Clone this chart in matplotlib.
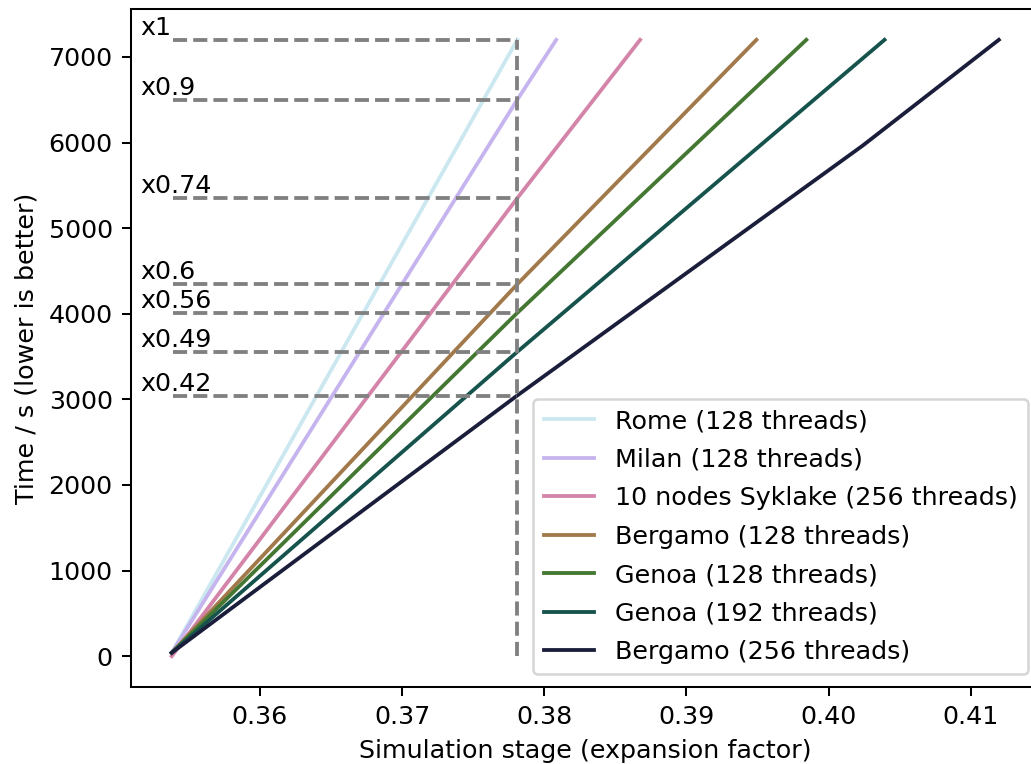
import matplotlib
matplotlib.use('Agg')
import matplotlib.pyplot as plt
import seaborn as sns

# Laufzeit vs. Expansionsfaktor
labels = ['Rome (128 threads)', 'Milan (128 threads)', '10 nodes Syklake (256 threads)',
          'Bergamo (128 threads)', 'Genoa (128 threads)', 'Genoa (192 threads)',
          'Bergamo (256 threads)']

stage_rome = [0.3538, 0.3781]
time_rome = [40, 7200]
stage_milan = [0.3538, 0.3781, 0.38084]
time_milan = [40, 6500, 7200]
stage_syklake = [0.3538, 0.3781, 0.38674]
time_syklake = [0, 5350, 7200]
stage_bergamo128 = [0.3538, 0.3781, 0.39492]
time_bergamo128 = [40, 4345, 7200]
stage_genoa128 = [0.3538, 0.3781, 0.39843]
time_genoa128 = [40, 4010, 7200]
stage_genoa192 = [0.3538, 0.3781, 0.40393]
time_genoa192 = [40, 3555, 7200]
stage_bergamo256 = [0.3538, 0.3781, 0.4024, 0.41197]
time_bergamo256 = [40, 3045, 5965, 7200]

stages = [stage_rome, stage_milan, stage_syklake, stage_bergamo128,
          stage_genoa128, stage_genoa192, stage_bergamo256]
times = [time_rome, time_milan, time_syklake, time_bergamo128,
         time_genoa128, time_genoa192, time_bergamo256]

# Zeit, bei der jeder Lauf das Endstadium von Rome erreicht, und das Verhaeltnis dazu
ref_stage = 0.3781
ref_start = 0.3539
ref_times = [7200, 6500, 5350, 4345, 4010, 3555, 3045]
ratio_labels = ['x1', 'x0.9', 'x0.74', 'x0.6', 'x0.56', 'x0.49', 'x0.42']
label_x = 0.3516

colors = sns.color_palette('cubehelix', 7)[::-1]

fig = plt.figure(figsize=(1031 / 183, 764 / 183), dpi=183)
ax = fig.add_axes([0.1266, 0.1008, 0.8826, 0.8874])

for st, tm, lab, col in zip(stages, times, labels, colors):
    ax.plot(st, tm, color=col, label=lab)

for t, rl in zip(ref_times, ratio_labels):
    ax.plot([ref_start, ref_stage], [t, t], color='gray', linestyle='--', linewidth=1.5)
    ax.text(label_x, t, rl, va='bottom', ha='left', fontsize=10)
ax.plot([ref_stage, ref_stage], [0, max(ref_times)], color='gray', linestyle='--', linewidth=1.5)

ax.set_xlim(0.3509, 0.4149)
ax.set_ylim(-360, 7560)
ax.set_xlabel('Simulation stage (expansion factor)')
ax.set_ylabel('Time / s (lower is better)')
ax.legend(loc='lower right', labelspacing=0.57)

fig.savefig('out.png')
